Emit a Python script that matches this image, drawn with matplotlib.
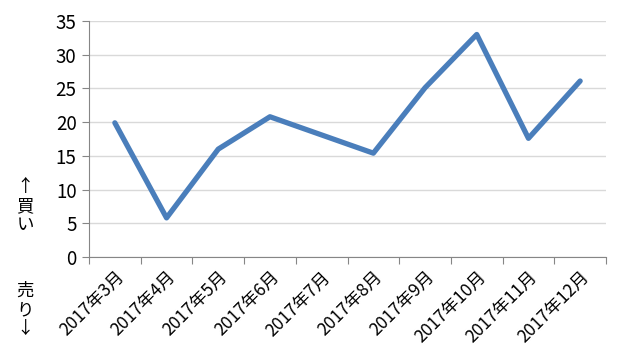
import matplotlib
matplotlib.use('Agg')
import matplotlib.pyplot as plt
import numpy as np

plt.rcParams['font.family'] = ['Noto Sans CJK JP', 'DejaVu Sans']

months = ['2017年3月', '2017年4月', '2017年5月', '2017年6月', '2017年7月',
          '2017年8月', '2017年9月', '2017年10月', '2017年11月', '2017年12月']
values = [19.9, 5.8, 16.0, 20.8, 18.1, 15.4, 25.1, 33.0, 17.6, 26.1]
yticks = [0, 5, 10, 15, 20, 25, 30, 35]

fig = plt.figure(figsize=(6.22, 3.64), dpi=100)
ax = fig.add_axes([89 / 622, 1 - 257 / 364, 517 / 622, 236 / 364])

x = np.arange(len(months))
ax.plot(x, values, color='#4a7ebb', lw=3.8, solid_joinstyle='round', solid_capstyle='round', zorder=3)

ax.set_xlim(-0.5, len(months) - 0.5)
ax.set_ylim(0, 35)
ax.set_yticks(yticks)
ax.tick_params(axis='y', labelsize=13.5, length=5, color='#868686', pad=4)
ax.grid(axis='y', color='#d9d9d9', lw=1)
ax.set_axisbelow(True)

# ticks between categories, labels at centres
ax.set_xticks(np.arange(-0.5, len(months), 1.0))
ax.set_xticklabels([])
ax.set_xticks(x, minor=True)
ax.set_xticklabels(months, minor=True, rotation=45, ha='right', va='top',
                   rotation_mode='anchor', fontsize=12.5)
ax.tick_params(axis='x', which='major', length=5, color='#868686')
ax.tick_params(axis='x', which='minor', length=0, pad=8)

for s in ['top', 'right']:
    ax.spines[s].set_visible(False)
ax.spines['left'].set_color('#868686')
ax.spines['bottom'].set_color('#868686')

fig.text(25 / 622, 1 - 206 / 364, '↑\n買\nい', ha='center', va='center',
         fontsize=12.5, linespacing=1.1)
fig.text(25 / 622, 1 - 310 / 364, '売\nり\n↓', ha='center', va='center',
         fontsize=12.5, linespacing=1.1)

fig.savefig('out.png', dpi=100)
